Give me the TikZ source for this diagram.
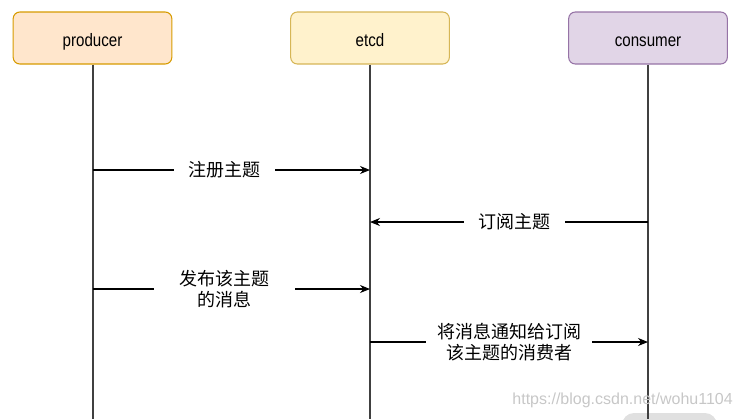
\documentclass[tikz,border=0pt]{standalone}
\usepackage{fontspec}
\setmainfont{Liberation Sans}
\newfontfamily\cjk{Noto Sans CJK SC}
\newfontfamily\boxfont[FakeStretch=0.84]{Liberation Sans}
\usepackage{xcolor}
\usepackage{tikz}
\usetikzlibrary{positioning,calc,arrows.meta}
\definecolor{prodFill}{HTML}{FFE6CC}
\definecolor{prodDraw}{HTML}{D79B00}
\definecolor{etcdFill}{HTML}{FFF2CC}
\definecolor{etcdDraw}{HTML}{D6B656}
\definecolor{consFill}{HTML}{E1D5E7}
\definecolor{consDraw}{HTML}{9673A6}
\tikzset{
  actorBox/.style={
    rectangle,
    rounded corners=5pt,
    line width=0.8pt,
    minimum width=119pt,
    minimum height=39pt,
    text height=13pt,
    text depth=1pt,
    font=\boxfont\fontsize{13.5pt}{15pt}\selectfont,
    align=center
  },
  lifeLine/.style={
    draw=black!75,
    line width=1pt
  },
  msgArrow/.style={
    -{Stealth[length=7.5pt,width=6pt]},
    draw=black,
    line width=0.8pt
  },
  msgLabel/.style={
    fill=white,
    inner xsep=11pt,
    inner ysep=1pt,
    align=center,
    font=\cjk\fontsize{13.5pt}{16pt}\selectfont
  }
}
\begin{document}
\begin{tikzpicture}[x=0.75pt,y=-0.75pt]
        \useasboundingbox (0,0) rectangle (741,419);

        % actors
        \node[actorBox, draw=prodDraw, fill=prodFill] (producer) at (92.5,38) {producer};
        \node[actorBox, draw=etcdDraw, fill=etcdFill] (etcd) at (370,38) {etcd};
        \node[actorBox, draw=consDraw, fill=consFill] (consumer) at (648,38) {consumer};

        % lifelines
        \coordinate (prodEnd) at (93,419);
        \coordinate (etcdEnd) at (370,419);
        \coordinate (consEnd) at (648,419);
        \draw[lifeLine] (producer.south -| prodEnd) -- (prodEnd);
        \draw[lifeLine] (etcd.south) -- (etcdEnd);
        \draw[lifeLine] (consumer.south) -- (consEnd);

        % message points
        \coordinate (p1) at (93,170);
        \coordinate (e1) at (370,170);
        \coordinate (c2) at (648,222);
        \coordinate (e2) at (370,222);
        \coordinate (p3) at (93,289);
        \coordinate (e3) at (370,289);
        \coordinate (e4) at (370,342);
        \coordinate (c4) at (648,342);

        \draw[msgArrow] (p1) -- node[msgLabel, pos=0.475]{注册主题} (e1);
        \draw[msgArrow] (c2) -- node[msgLabel, pos=0.48]{订阅主题} (e2);
        \draw[msgArrow] (p3) -- node[msgLabel, pos=0.475, inner xsep=19pt]{发布该主题\\的消息} (e3);
        \draw[msgArrow] (e4) -- node[msgLabel, pos=0.5, inner xsep=8pt]{将消息通知给订阅\\该主题的消费者} (c4);

        % watermark
        \begin{scope}
          \clip (0,0) rectangle (741,419);
          \fill[black!12, rounded corners=9pt] (622,413) rectangle (717,440);
        \end{scope}
        \draw[lifeLine] (648,412) -- (consEnd);
        \node[text=black!22, font=\fontsize{12pt}{14pt}\selectfont, anchor=east, inner sep=0pt] (mark) at (733,400) {https://blog.csdn.net/wohu1104};
    \end{tikzpicture}
\end{document}
